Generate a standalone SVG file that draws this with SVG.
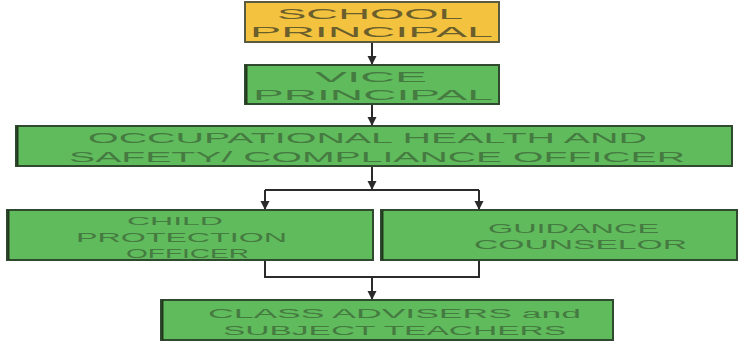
<svg xmlns="http://www.w3.org/2000/svg" width="739" height="344" viewBox="0 0 739 344">
<style>
.g{fill:#60bb5c;stroke:#2f4a2e;stroke-width:2}
.y{fill:#f3c23f;stroke:#5a5a40;stroke-width:2}
.t{font-family:"Liberation Sans",Arial,sans-serif;fill:#457a41}
.ty{font-family:"Liberation Sans",Arial,sans-serif;fill:#6a5e2c}
.c{fill:none;stroke:#2b2b2b;stroke-width:2}
.e{stroke:#24381f;stroke-width:2}
</style>
<defs>
<marker id="ah" markerWidth="10" markerHeight="10" refX="8" refY="5" orient="auto" markerUnits="userSpaceOnUse">
<path d="M0,0.5 L9,5 L0,9.5 Z" fill="#2b2b2b"/>
</marker>
</defs>
<rect width="739" height="344" fill="#ffffff"/>
<g id="connectors">
<path class="c" d="M372,42 V64" marker-end="url(#ah)"/>
<path class="c" d="M372,104 V125" marker-end="url(#ah)"/>
<path class="c" d="M372,166 V189" marker-end="url(#ah)"/>
<path class="c" d="M265,190 H479"/>
<path class="c" d="M265,190 V209" marker-end="url(#ah)"/>
<path class="c" d="M479,190 V209" marker-end="url(#ah)"/>
<path class="c" d="M265,260 V277 H479 V260"/>
<path class="c" d="M372,277 V299" marker-end="url(#ah)"/>
</g>
<g id="school-principal">
<rect class="y" x="245" y="2" width="254" height="40"/>
<text class="ty" x="277" y="19" font-size="15" textLength="186" lengthAdjust="spacingAndGlyphs">SCHOOL</text>
<text class="ty" x="250" y="37" font-size="15" textLength="243" lengthAdjust="spacingAndGlyphs">PRINCIPAL</text>
</g>
<g id="vice-principal">
<rect class="g" x="245" y="65" width="254" height="39"/>
<line class="e" x1="246.5" y1="65" x2="246.5" y2="104"/>
<text class="t" x="315" y="82" font-size="14" textLength="112" lengthAdjust="spacingAndGlyphs">VICE</text>
<text class="t" x="253" y="100" font-size="15" textLength="240" lengthAdjust="spacingAndGlyphs">PRINCIPAL</text>
</g>
<g id="ohs-officer">
<rect class="g" x="16" y="126" width="716" height="40"/>
<line class="e" x1="17.5" y1="126" x2="17.5" y2="166"/>
<text class="t" x="88" y="143" font-size="14" textLength="559" lengthAdjust="spacingAndGlyphs">OCCUPATIONAL HEALTH AND</text>
<text class="t" x="69" y="162" font-size="14" textLength="616" lengthAdjust="spacingAndGlyphs">SAFETY/ COMPLIANCE OFFICER</text>
</g>
<g id="child-protection-officer">
<rect class="g" x="7" y="210" width="366" height="50"/>
<line class="e" x1="8.5" y1="210" x2="8.5" y2="260"/>
<text class="t" x="127" y="225" font-size="11" textLength="96" lengthAdjust="spacingAndGlyphs">CHILD</text>
<text class="t" x="76" y="242" font-size="12" textLength="211" lengthAdjust="spacingAndGlyphs">PROTECTION</text>
<text class="t" x="126" y="258" font-size="12" textLength="123" lengthAdjust="spacingAndGlyphs">OFFICER</text>
</g>
<g id="guidance-counselor">
<rect class="g" x="381" y="210" width="356" height="50"/>
<line class="e" x1="382.5" y1="210" x2="382.5" y2="260"/>
<text class="t" x="488" y="233" font-size="13" textLength="171" lengthAdjust="spacingAndGlyphs">GUIDANCE</text>
<text class="t" x="474" y="249" font-size="13" textLength="213" lengthAdjust="spacingAndGlyphs">COUNSELOR</text>
</g>
<g id="class-advisers">
<rect class="g" x="161" y="300" width="452" height="40"/>
<line class="e" x1="162.5" y1="300" x2="162.5" y2="340"/>
<text class="t" x="208" y="318" font-size="12" textLength="373" lengthAdjust="spacingAndGlyphs">CLASS ADVISERS and</text>
<text class="t" x="223" y="335" font-size="12" textLength="343" lengthAdjust="spacingAndGlyphs">SUBJECT TEACHERS</text>
</g>
</svg>
